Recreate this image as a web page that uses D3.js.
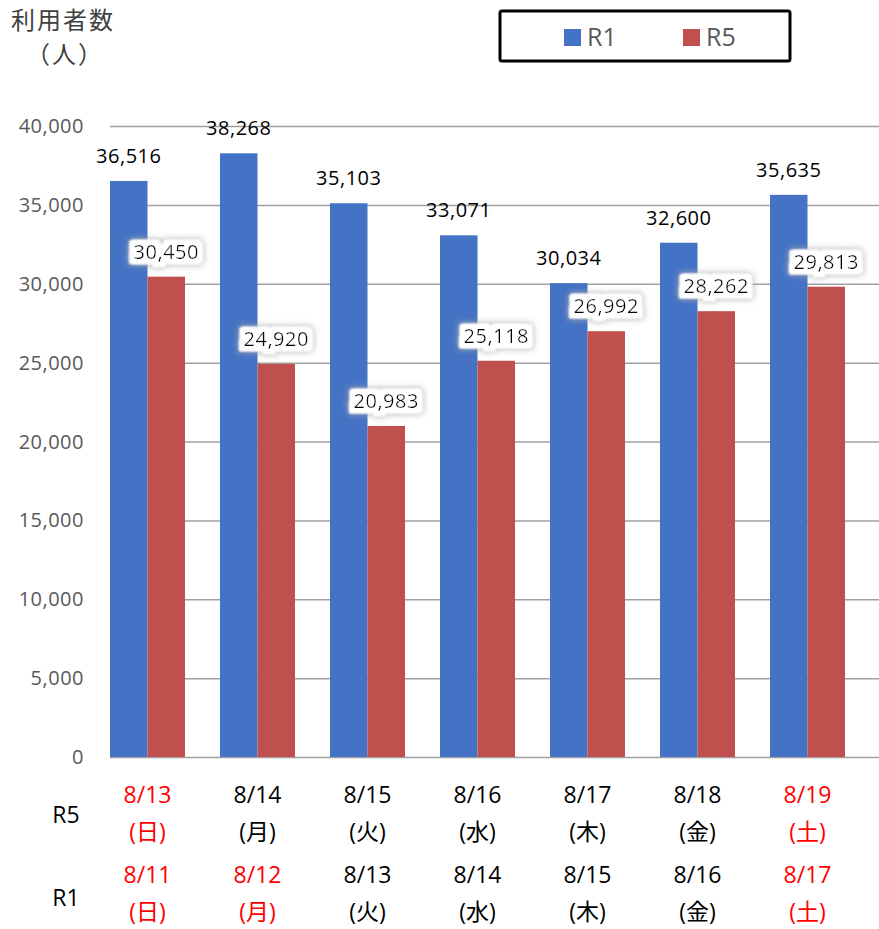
<!DOCTYPE html>
<html>
<head>
<meta charset="utf-8">
<script src="https://cdn.jsdelivr.net/npm/d3@7"></script>
<style>
  body { margin: 0; background: #fff; }
  svg { font-family: "Open Sans", "Noto Sans CJK JP", sans-serif; }
</style>
</head>
<body>
<svg id="chart"></svg>
<script>
// データ
var r5Dates = ["8/13", "8/14", "8/15", "8/16", "8/17", "8/18", "8/19"];
var r5Days = ["(日)", "(月)", "(火)", "(水)", "(木)", "(金)", "(土)"];
var r5Holiday = [true, false, false, false, false, false, true];
var r1Dates = ["8/11", "8/12", "8/13", "8/14", "8/15", "8/16", "8/17"];
var r1Days = ["(日)", "(月)", "(火)", "(水)", "(木)", "(金)", "(土)"];
var r1Holiday = [true, true, false, false, false, false, true];
var seriesNames = ["R1", "R5"];
var r1Values = [36516, 38268, 35103, 33071, 30034, 32600, 35635];
var r5Values = [30450, 24920, 20983, 25118, 26992, 28262, 29813];
var yTicks = [0, 5000, 10000, 15000, 20000, 25000, 30000, 35000, 40000];

var width = 879, height = 929;
var colors = { R1: "#4472C4", R5: "#C0504D" };

var svg = d3.select("#chart")
    .attr("width", width)
    .attr("height", height);

// R5ラベルの白い影
var defs = svg.append("defs");
var f = defs.append("filter").attr("id", "glow")
    .attr("x", "-30%").attr("y", "-70%").attr("width", "160%").attr("height", "240%");
f.append("feMorphology").attr("in", "SourceAlpha").attr("operator", "dilate").attr("radius", 6).attr("result", "big");
f.append("feGaussianBlur").attr("in", "big").attr("stdDeviation", 3).attr("result", "blur");
f.append("feFlood").attr("flood-color", "#b0b0b0");
f.append("feComposite").attr("in2", "blur").attr("operator", "in").attr("result", "shadow");
f.append("feMorphology").attr("in", "SourceAlpha").attr("operator", "dilate").attr("radius", 5).attr("result", "mid");
f.append("feGaussianBlur").attr("in", "mid").attr("stdDeviation", 1).attr("result", "midb");
f.append("feFlood").attr("flood-color", "#ffffff");
f.append("feComposite").attr("in2", "midb").attr("operator", "in").attr("result", "white");
var merge = f.append("feMerge");
merge.append("feMergeNode").attr("in", "shadow");
merge.append("feMergeNode").attr("in", "white");
merge.append("feMergeNode").attr("in", "white");
merge.append("feMergeNode").attr("in", "SourceGraphic");

var plotLeft = 110, plotRight = 880, plotTop = 126, plotBottom = 757;

var x = d3.scaleBand()
    .domain(r5Dates.map(function (d, i) { return i; }))
    .range([plotLeft, plotRight])
    .paddingInner(0).paddingOuter(0);
var barW = x.bandwidth() * 75 / 110 / 2;

var y = d3.scaleLinear().domain([0, 40000]).range([plotBottom, plotTop]);

// グリッド線
svg.append("g").selectAll("line")
    .data(yTicks)
    .enter().append("line")
    .attr("x1", plotLeft).attr("x2", plotRight)
    .attr("y1", function (d) { return y(d) + 0.5; })
    .attr("y2", function (d) { return y(d) + 0.5; })
    .attr("stroke", "#a0a0a0")
    .attr("stroke-width", 1.5);

// Y軸ラベル
var fmt = d3.format(",");
svg.append("g").selectAll("text")
    .data(yTicks)
    .enter().append("text")
    .attr("x", 84)
    .attr("y", function (d) { return y(d); })
    .attr("dy", "0.35em")
    .attr("text-anchor", "end")
    .attr("fill", "#595959")
    .attr("font-size", "20px")
    .attr("letter-spacing", "0.5px")
    .text(function (d) { return fmt(d); });

// 棒
var rows = r1Values.map(function (v, i) { return { i: i, R1: v, R5: r5Values[i] }; });
var groups = svg.append("g").selectAll("g")
    .data(rows)
    .enter().append("g")
    .attr("transform", function (d) { return "translate(" + x(d.i) + ",0)"; });

seriesNames.forEach(function (s, k) {
    groups.append("rect")
        .attr("x", k * barW)
        .attr("width", barW)
        .attr("y", function (d) { return y(d[s]); })
        .attr("height", function (d) { return plotBottom - y(d[s]); })
        .attr("fill", colors[s]);
});

// 値ラベル
groups.append("text")
    .attr("x", barW / 2)
    .attr("y", function (d) { return y(d.R1) - 25; })
    .attr("dy", "0.35em")
    .attr("text-anchor", "middle")
    .attr("font-size", "20px")
    .attr("letter-spacing", "0.5px")
    .attr("fill", "#000")
    .text(function (d) { return fmt(d.R1); });
groups.append("text")
    .attr("x", barW * 1.5)
    .attr("y", function (d) { return y(d.R5) - 25; })
    .attr("dy", "0.35em")
    .attr("text-anchor", "middle")
    .attr("font-size", "20px")
    .attr("letter-spacing", "0.5px")
    .attr("fill", "#000")
    .attr("filter", "url(#glow)")
    .text(function (d) { return fmt(d.R5); });

// X軸ラベル
function xRow(labels, holiday, yy) {
    svg.append("g").selectAll("text")
        .data(labels)
        .enter().append("text")
        .attr("x", function (d, i) { return x(i) + barW; })
        .attr("y", yy)
        .attr("dy", "0.35em")
        .attr("text-anchor", "middle")
        .attr("font-size", "23px")
        .attr("fill", function (d, i) { return holiday[i] ? "#FF0000" : "#000"; })
        .text(function (d) { return d; });
}
xRow(r5Dates, r5Holiday, 795);
xRow(r5Days, r5Holiday, 832);
xRow(r1Dates, r1Holiday, 875);
xRow(r1Days, r1Holiday, 912);

svg.append("text").attr("x", 66).attr("y", 815).attr("dy", "0.35em")
    .attr("text-anchor", "middle").attr("font-size", "23px").text("R5");
svg.append("text").attr("x", 66).attr("y", 898).attr("dy", "0.35em")
    .attr("text-anchor", "middle").attr("font-size", "23px").text("R1");

// 軸タイトル
svg.append("text").attr("x", 11).attr("y", 21).attr("dy", "0.35em")
    .attr("font-family", "Noto Sans CJK JP")
    .attr("font-size", "24px").attr("letter-spacing", "2px")
    .attr("fill", "#404040").text("利用者数");
svg.append("text").attr("x", 65).attr("y", 55).attr("dy", "0.35em")
    .attr("font-family", "Noto Sans CJK JP")
    .attr("text-anchor", "middle").attr("font-size", "24px").attr("letter-spacing", "2px")
    .attr("fill", "#404040").text("（人）");

// 凡例
var legend = svg.append("g");
legend.append("rect")
    .attr("x", 500).attr("y", 11).attr("width", 290).attr("height", 50)
    .attr("rx", 2)
    .attr("fill", "#fff").attr("stroke", "#000").attr("stroke-width", 3);
var legendX = [564, 683];
seriesNames.forEach(function (s, k) {
    legend.append("rect")
        .attr("x", legendX[k]).attr("y", 29)
        .attr("width", 17).attr("height", 17)
        .attr("fill", colors[s]);
    legend.append("text")
        .attr("x", legendX[k] + 23).attr("y", 37)
        .attr("dy", "0.35em")
        .attr("font-size", "25px")
        .attr("fill", "#595959")
        .text(s);
});
</script>
</body>
</html>
